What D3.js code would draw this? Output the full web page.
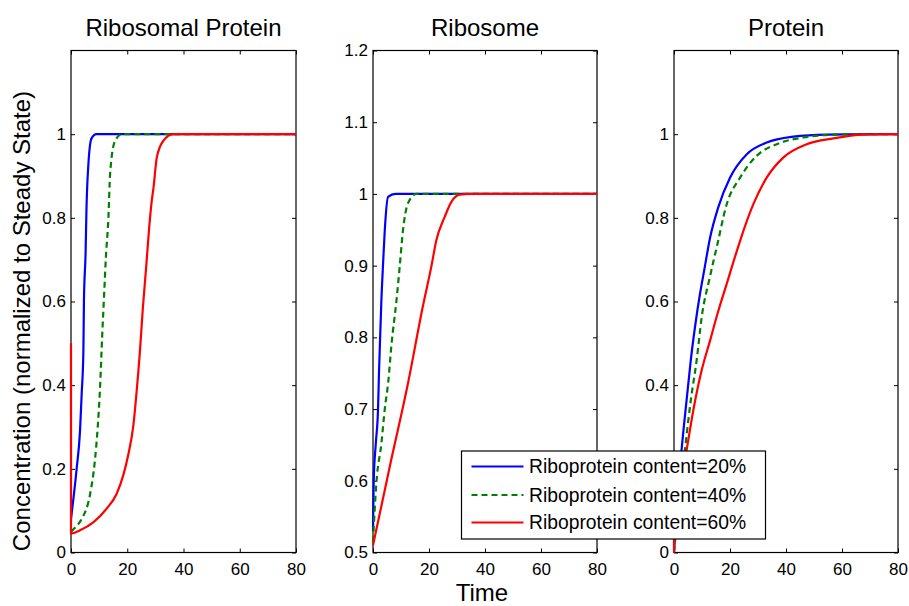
<!DOCTYPE html>
<html>
<head>
<meta charset="utf-8">
<script src="https://cdn.jsdelivr.net/npm/d3@7"></script>
<style>
  body { margin: 0; background: #fff; }
  svg { display: block; font-family: Arial, "Liberation Sans", sans-serif; }
</style>
</head>
<body>
<svg id="chart"></svg>
<script>
// Panel titles, legend labels and tick values
const titles = ["Ribosomal Protein", "Ribosome", "Protein"]
const seriesLabels = ["Riboprotein content=20%", "Riboprotein content=40%", "Riboprotein content=60%"]
const xTicks = [0, 20, 40, 60, 80]
const yTicksRP = [0, 0.2, 0.4, 0.6, 0.8, 1]
const yTicksRibo = [0.5, 0.6, 0.7, 0.8, 0.9, 1, 1.1, 1.2]
const yTicksProt = [0, 0.2, 0.4, 0.6, 0.8, 1]

// [time, normalized concentration]
const rp20 = [[0,0.08],[2,0.2],[3.2,0.29],[3.8,0.38],[4.4,0.48],[4.6,0.6],[5.2,0.72],[5.5,0.82],[6.2,0.93],[7.3,0.99],[9,1],[80,1]]
const rp40 = [[0,0.05],[1.5,0.06],[3.8,0.08],[6.8,0.14],[8.5,0.22],[9.5,0.3],[10.3,0.39],[11.1,0.52],[11.8,0.62],[12.4,0.705],[13.3,0.8],[13.9,0.905],[15.6,0.983],[18,1],[80,1]]
const rp60 = [[0,0.5],[0,0.045],[3.2,0.053],[7.9,0.072],[12.7,0.105],[16.2,0.14],[18.6,0.185],[20.4,0.235],[22.2,0.305],[23.4,0.39],[24.5,0.48],[25.5,0.58],[26.7,0.68],[27.8,0.777],[28.7,0.84],[29.3,0.87],[30.5,0.944],[32.8,0.984],[36.4,1],[80,1]]

const ribo20 = [[0,0.53],[0.25,0.6],[1,0.652],[1.8,0.7],[2.1,0.745],[2.6,0.806],[3,0.852],[3.6,0.903],[4.2,0.949],[5.4,0.996],[8,1],[80,1]]
const ribo40 = [[0,0.515],[1.2,0.597],[3,0.652],[4.2,0.7],[5.4,0.736],[6.6,0.79],[8.4,0.852],[9.5,0.897],[10.7,0.949],[12.5,0.987],[15.5,1],[80,1]]
const ribo60 = [[0,0.51],[6,0.62],[12.5,0.736],[17.9,0.845],[20.9,0.9],[22.6,0.935],[25.6,0.968],[28,0.989],[31,0.999],[35,1],[80,1]]

const prot20 = [[0,0],[1,0.1],[2,0.19],[2.7,0.245],[4.5,0.364],[6,0.46],[7.5,0.539],[9.3,0.619],[10.8,0.675],[12.9,0.753],[15.8,0.825],[20,0.896],[26,0.952],[33.1,0.98],[42.6,0.994],[54.5,0.999],[70,1],[80,1]]
const prot40 = [[0,0],[1,0.07],[2,0.13],[3,0.19],[3.9,0.245],[6,0.364],[8.1,0.46],[9.9,0.563],[12.8,0.658],[15.5,0.737],[18.8,0.832],[23.6,0.896],[29.5,0.948],[36.7,0.976],[46.2,0.992],[58,0.999],[70,1],[80,1]]
const prot60 = [[0,0],[0,0.07],[2,0.15],[4.5,0.245],[6.9,0.34],[9.9,0.436],[12.9,0.507],[15.2,0.563],[19.1,0.648],[22.4,0.72],[23.6,0.745],[28.3,0.832],[33.1,0.896],[39,0.944],[47.4,0.976],[56.9,0.99],[67.6,0.999],[80,1]]

// Series styles
const colors = ["#0000ff", "#008000", "#ff0000"]
const dashes = [null, "6,4", null]

// Panels (layout only)
const panels = [
    { title: titles[0], left: 71, right: 296, yDomain: [0, 1.2], yTicks: yTicksRP, series: [rp20, rp40, rp60] },
    { title: titles[1], left: 373, right: 597, yDomain: [0.5, 1.2], yTicks: yTicksRibo, series: [ribo20, ribo40, ribo60] },
    { title: titles[2], left: 674, right: 898, yDomain: [0, 1.2], yTicks: yTicksProt, series: [prot20, prot40, prot60] }
]
const plotTop = 50.5
const plotBottom = 552.5

const svg = d3.select("#chart")
    .attr("width", 909)
    .attr("height", 606)

const fmt = d3.format("~g")

panels.forEach((p, i) => {
    const xScale = d3.scaleLinear().domain([0, 80]).range([p.left, p.right])
    const yScale = d3.scaleLinear().domain(p.yDomain).range([plotBottom, plotTop])

    const g = svg.append("g")

    // clip lines to the plot box (a little slack so edge lines keep their width)
    g.append("clipPath")
        .attr("id", "clip" + i)
        .append("rect")
        .attr("x", p.left - 2)
        .attr("y", plotTop - 2)
        .attr("width", p.right - p.left + 4)
        .attr("height", plotBottom - plotTop + 4)

    // Bottom axis with labels, inward ticks
    g.append("g")
        .attr("transform", "translate(0," + plotBottom + ")")
        .call(d3.axisBottom(xScale).tickValues(xTicks).tickSizeInner(-4).tickSizeOuter(0).tickPadding(10).tickFormat(fmt))
        .call(a => a.select(".domain").remove())
        .attr("font-size", 17)
        .attr("font-family", null)

    // Top axis, ticks only
    g.append("g")
        .attr("transform", "translate(0," + plotTop + ")")
        .call(d3.axisTop(xScale).tickValues(xTicks).tickSizeInner(-4).tickSizeOuter(0).tickFormat(""))
        .call(a => a.select(".domain").remove())

    // Left axis with labels
    g.append("g")
        .attr("transform", "translate(" + p.left + ",0)")
        .call(d3.axisLeft(yScale).tickValues(p.yTicks).tickSizeInner(-4).tickSizeOuter(0).tickPadding(5).tickFormat(fmt))
        .call(a => a.select(".domain").remove())
        .attr("font-size", 17)
        .attr("font-family", null)

    // Right axis, ticks only
    g.append("g")
        .attr("transform", "translate(" + p.right + ",0)")
        .call(d3.axisRight(yScale).tickValues(p.yTicks).tickSizeInner(-4).tickSizeOuter(0).tickFormat(""))
        .call(a => a.select(".domain").remove())

    // Box
    g.append("rect")
        .attr("x", p.left)
        .attr("y", plotTop)
        .attr("width", p.right - p.left)
        .attr("height", plotBottom - plotTop)
        .attr("fill", "none")
        .attr("stroke", "black")
        .attr("stroke-width", 1.2)

    // Curves
    const line = d3.line()
        .x(d => xScale(d[0]))
        .y(d => yScale(d[1]))
        .curve(d3.curveMonotoneX)

    g.append("g")
        .attr("clip-path", "url(#clip" + i + ")")
        .selectAll("path")
        .data(p.series)
        .enter()
        .append("path")
        .attr("d", line)
        .attr("fill", "none")
        .attr("stroke", (d, j) => colors[j])
        .attr("stroke-width", 2.2)
        .attr("stroke-dasharray", (d, j) => dashes[j])
        .attr("stroke-linejoin", "round")

    // Title
    g.append("text")
        .attr("x", (p.left + p.right) / 2)
        .attr("y", 36)
        .attr("text-anchor", "middle")
        .attr("font-size", 24)
        .text(p.title)
})

// Axis labels
svg.append("text")
    .attr("x", 482)
    .attr("y", 601)
    .attr("text-anchor", "middle")
    .attr("font-size", 24)
    .text("Time")

svg.append("text")
    .attr("transform", "translate(30,321) rotate(-90)")
    .attr("text-anchor", "middle")
    .attr("font-size", 24)
    .text("Concentration (normalized to Steady State)")

// Legend
const legend = svg.append("g")
legend.append("rect")
    .attr("x", 461.5)
    .attr("y", 451)
    .attr("width", 304)
    .attr("height", 88)
    .attr("fill", "white")
    .attr("stroke", "black")
    .attr("stroke-width", 1.2)

const rowY = [466.5, 495, 522.5]
seriesLabels.forEach((label, j) => {
    legend.append("line")
        .attr("x1", 471.5)
        .attr("x2", 523.5)
        .attr("y1", rowY[j])
        .attr("y2", rowY[j])
        .attr("stroke", colors[j])
        .attr("stroke-width", 2.2)
        .attr("stroke-dasharray", dashes[j])
    legend.append("text")
        .attr("x", 529)
        .attr("y", rowY[j])
        .attr("dy", "0.35em")
        .attr("font-size", 19.3)
        .text(label)
})
</script>
</body>
</html>
